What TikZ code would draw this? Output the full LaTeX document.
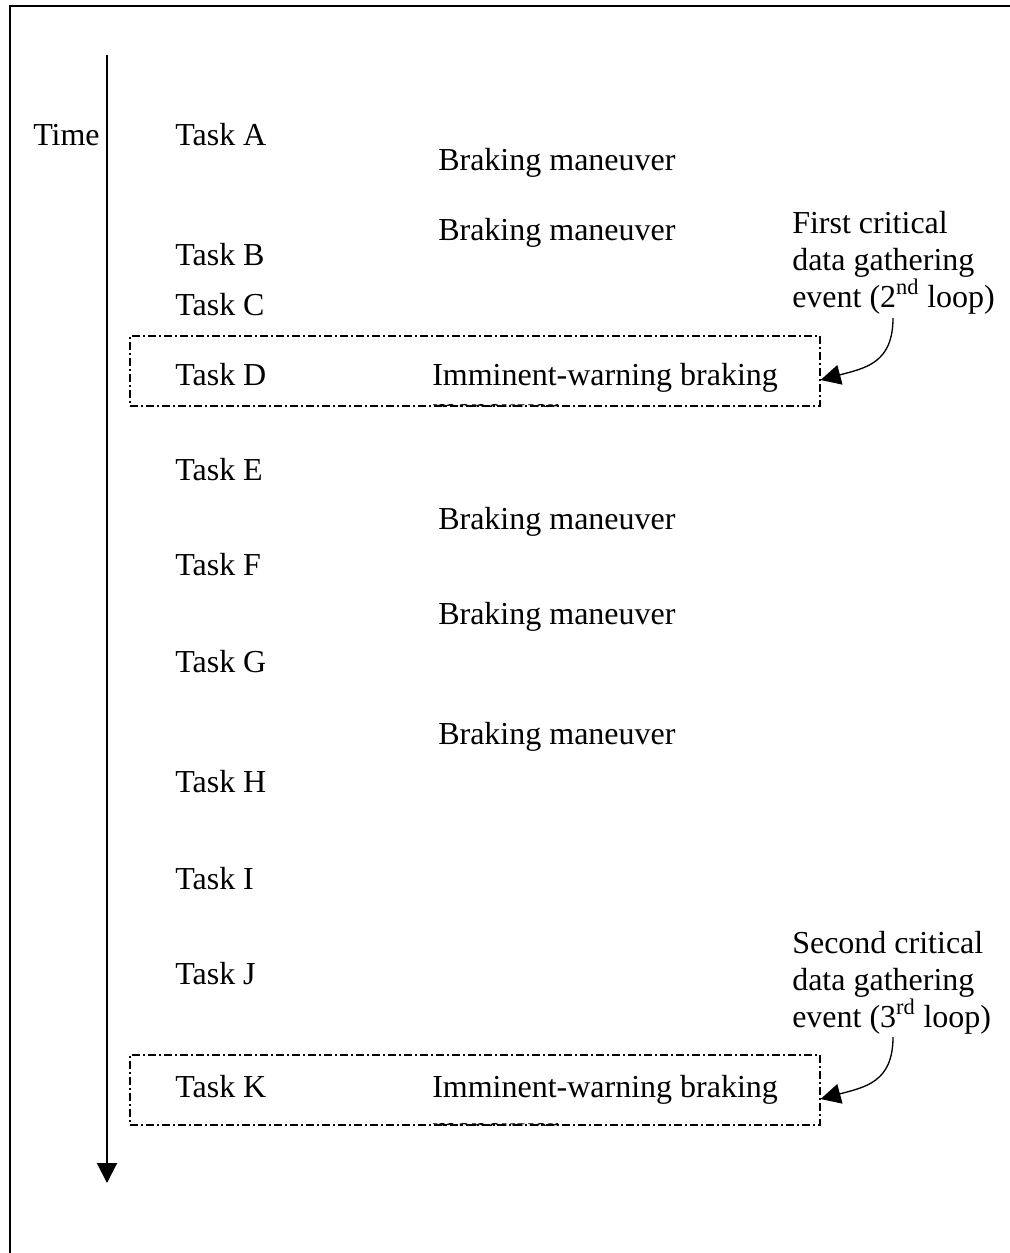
\documentclass[tikz,border=0pt]{standalone}
\usepackage{fontspec}
\setmainfont{Liberation Serif}
\usetikzlibrary{arrows.meta,fit}

\begin{document}
\begin{tikzpicture}[x=0.75pt, y=-0.75pt,
	every node/.style={font=\fontsize{24}{27}\selectfont, inner sep=0pt, anchor=base west},
	frame/.style={line width=1.5pt},
	critbox/.style={draw, line width=0.9pt, dash pattern=on 6pt off 2.25pt on 1.5pt off 2.25pt, inner sep=0pt, anchor=center},
	note/.style={align=left, font=\fontsize{24}{27.75}\selectfont},
	pointer/.style={line width=1pt, -{Triangle[length=15pt,width=15pt]}}]
	\useasboundingbox (0,0) rectangle (1010,1253);
	\draw[frame] (10,1253)--(10,6)--(1010,6);
	% time axis
	\coordinate (tTop) at (107,55);
	\coordinate (tEnd) at (107,1183);
	\draw[frame, -{Triangle[length=15pt,width=15pt]}] (tTop) -- (tEnd);
	\node (time) at (33,145) {Time};
	% tasks
	\foreach \t/\y in {A/145,B/265,C/315,D/385,E/480,F/575,G/672,H/792,I/889,J/984,K/1097}
		\node (task\t) at (175,\y) {Task \t};
	\foreach \i/\y in {1/170,2/240,3/529,4/624,5/744}
		\node (brake\i) at (438,\y) {Braking maneuver};
	% critical events
	\foreach \n/\dy/\wy in {D/0/385,K/719/1097} {
		\node[critbox, fit={(130,336+\dy) (820,406+\dy)}] (box\n) {};
		\node (warn\n) at (432,\wy) {Imminent-warning braking};
		\begin{scope}
			\clip (425,402+\dy) rectangle (600,406+\dy);
			\node (cut\n) at (432,419+\dy) {maneuver};
		\end{scope}
		\coordinate (tip\n) at (893,318+\dy);
		\draw[pointer] (tip\n) .. controls +(0,45) and +(45,-12) .. ([yshift=-6.75pt]box\n.east);
	}
	\node[note] (noteD) at (792,307) {First critical\\data gathering\\event (2\textsuperscript{nd} loop)};
	\node[note] (noteK) at (792,1027) {Second critical\\data gathering\\event (3\textsuperscript{rd} loop)};
\end{tikzpicture}
\end{document}
